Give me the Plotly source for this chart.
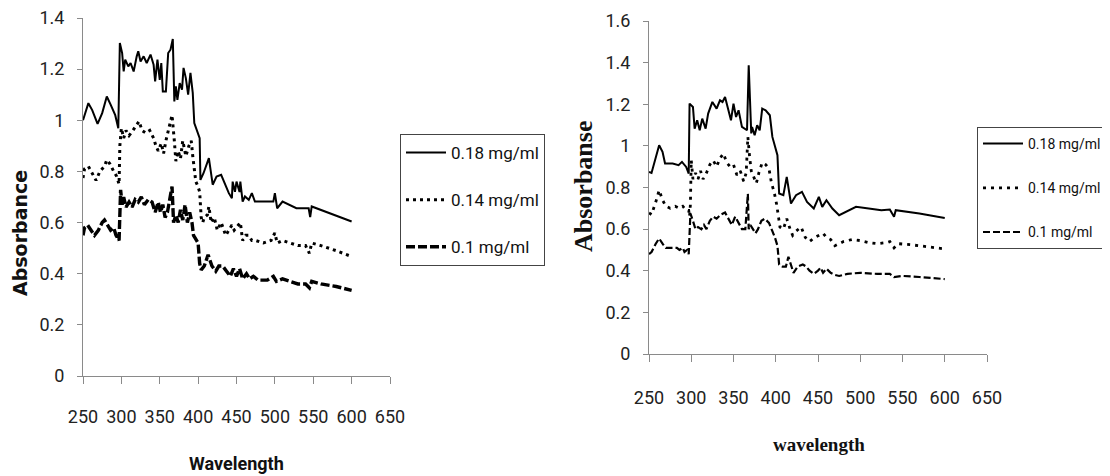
import plotly.graph_objects as go

# ---------------- data: left panel ----------------
left_wl_018 = [250,257,262,269,275,281,286,292,296,298,301,303,305,309,312,316,320,322,325,329,
               333,338,342,344,347,350,352,354,358,361,364,367,369,371,373,376,379,381,384,387,
               390,393,395,398,402,403,407,414,419,424,430,440,444,445,448,450,454,455,458,461,
               466,470,474,498,500,503,510,528,544,546,548,600]
left_abs_018 = [1.00,1.067,1.04,0.986,1.028,1.093,1.061,1.02,0.969,1.302,1.263,1.191,1.237,1.211,1.224,1.191,1.25,1.27,1.23,1.25,
                1.224,1.257,1.217,1.152,1.237,1.158,1.224,1.113,1.113,1.263,1.276,1.318,1.074,1.133,1.08,1.145,1.12,1.205,1.165,1.10,
                1.185,1.107,0.989,0.963,0.93,0.767,0.793,0.852,0.748,0.78,0.787,0.715,0.695,0.76,0.72,0.76,0.72,0.76,0.682,0.702,
                0.689,0.715,0.682,0.682,0.715,0.656,0.682,0.656,0.656,0.621,0.663,0.604]

left_wl_014 = [250,252,257,262,267,272,278,281,285,290,294,297,298,300,303,306,310,315,320,323,
               327,332,337,342,345,348,352,355,358,362,366,369,371,374,377,380,384,388,391,393,
               395,397,400,402,404,406,408,412,414,417,421,425,430,436,440,444,447,450,455,458,
               462,466,470,475,485,495,500,503,510,520,530,540,545,548,560,580,600]
left_abs_014 = [0.774,0.81,0.82,0.79,0.765,0.80,0.82,0.845,0.83,0.80,0.78,0.75,0.90,0.969,0.93,0.96,0.94,0.96,0.98,0.996,
                0.96,0.95,0.96,0.93,0.90,0.88,0.91,0.87,0.92,0.97,1.02,0.92,0.84,0.88,0.85,0.92,0.86,0.90,0.92,0.86,
                0.80,0.76,0.74,0.72,0.62,0.60,0.62,0.63,0.663,0.60,0.62,0.57,0.60,0.55,0.57,0.59,0.57,0.58,0.60,0.53,
                0.55,0.55,0.53,0.53,0.52,0.53,0.559,0.52,0.53,0.52,0.51,0.51,0.48,0.52,0.51,0.49,0.467]

left_wl_010 = [250,252,256,260,265,270,275,278,282,286,290,293,297,298,299,301,303,306,310,314,
               318,322,326,330,335,340,344,348,351,354,357,360,363,366,368,371,374,377,380,383,
               386,389,392,394,396,400,402,404,408,413,418,423,427,432,437,442,446,450,454,458,
               463,467,472,478,490,498,502,510,520,530,540,545,548,560,580,600]
left_abs_010 = [0.55,0.58,0.59,0.57,0.55,0.57,0.60,0.61,0.59,0.57,0.58,0.55,0.53,0.62,0.728,0.67,0.70,0.66,0.68,0.66,
                0.69,0.68,0.70,0.67,0.69,0.68,0.64,0.68,0.64,0.67,0.62,0.64,0.70,0.741,0.60,0.63,0.60,0.65,0.61,0.67,
                0.60,0.64,0.60,0.55,0.54,0.52,0.44,0.415,0.43,0.474,0.43,0.41,0.43,0.43,0.41,0.39,0.42,0.39,0.42,0.38,
                0.40,0.38,0.39,0.375,0.375,0.39,0.37,0.38,0.37,0.36,0.36,0.345,0.37,0.36,0.35,0.335]

# ---------------- data: right panel ----------------
right_wl_018 = [250,253,262,266,269,278,285,289,294,297,298,302,304,307,310,313,317,320,325,330,
                334,337,340,343,347,350,353,356,360,366,368,371,372,375,378,381,384,388,393,396,
                400,402,404,409,413,418,424,431,437,445,451,455,460,467,475,483,495,510,525,535,
                540,542,570,600]
right_abs_018 = [0.875,0.87,1.003,0.971,0.915,0.915,0.907,0.923,0.899,0.867,1.203,1.187,1.083,1.123,1.075,1.131,1.083,1.155,1.211,1.179,
                 1.219,1.211,1.235,1.187,1.123,1.203,1.139,1.171,1.091,1.075,1.387,1.06,1.091,1.051,1.099,1.075,1.179,1.171,1.147,1.043,
                 0.987,0.955,0.771,0.763,0.851,0.723,0.763,0.779,0.731,0.699,0.755,0.707,0.739,0.699,0.667,0.683,0.707,0.699,0.691,0.694,
                 0.659,0.691,0.675,0.654]

right_wl_014 = [250,253,258,262,266,270,275,281,286,290,294,297,298,299,300,302,305,308,311,314,
                318,322,326,330,334,338,342,346,350,354,358,362,365,367,369,371,374,377,380,384,
                388,392,395,398,401,403,405,409,413,417,420,424,430,435,440,446,452,456,460,465,
                470,475,480,490,500,510,520,530,535,540,545,560,580,600]
right_abs_014 = [0.678,0.67,0.73,0.787,0.74,0.71,0.70,0.71,0.70,0.71,0.69,0.69,0.66,0.72,0.931,0.84,0.87,0.84,0.88,0.84,
                 0.87,0.91,0.93,0.90,0.94,0.963,0.92,0.90,0.91,0.86,0.88,0.83,0.87,1.043,0.95,0.88,0.85,0.82,0.87,0.92,
                 0.91,0.89,0.82,0.78,0.72,0.66,0.61,0.60,0.65,0.60,0.57,0.59,0.61,0.56,0.54,0.56,0.57,0.58,0.56,0.55,
                 0.52,0.53,0.54,0.55,0.545,0.535,0.53,0.535,0.54,0.51,0.53,0.525,0.515,0.505]

right_wl_010 = [250,253,258,262,266,270,278,283,286,290,292,295,297,298,299,302,305,308,312,315,
                318,322,326,330,335,340,345,348,352,356,360,364,366,367,368,370,373,376,379,383,
                387,392,396,399,402,404,408,412,415,418,421,426,432,436,440,445,450,453,456,460,
                465,470,475,485,500,520,535,540,550,570,600]
right_abs_010 = [0.48,0.49,0.53,0.555,0.53,0.51,0.51,0.51,0.50,0.51,0.49,0.50,0.48,0.55,0.675,0.64,0.60,0.61,0.60,0.62,
                 0.60,0.64,0.66,0.65,0.67,0.68,0.64,0.62,0.66,0.63,0.60,0.60,0.74,0.77,0.60,0.62,0.60,0.58,0.60,0.64,
                 0.65,0.63,0.59,0.56,0.52,0.43,0.42,0.42,0.467,0.43,0.39,0.42,0.43,0.42,0.40,0.385,0.40,0.415,0.39,0.41,
                 0.39,0.38,0.375,0.385,0.39,0.385,0.385,0.37,0.375,0.37,0.36]

series_names = ["0.18 mg/ml", "0.14 mg/ml", "0.1 mg/ml"]
x_ticks = [250, 300, 350, 400, 450, 500, 550, 600, 650]
left_y_ticks = [0, 0.2, 0.4, 0.6, 0.8, 1, 1.2, 1.4]
right_y_ticks = [0, 0.2, 0.4, 0.6, 0.8, 1, 1.2, 1.4, 1.6]

# the page body adds an 8px margin, so the figure is 8px smaller and offset
OFF = 8
W, H = 1110 - OFF, 476 - OFF
SANS = "Roboto, Liberation Sans, sans-serif"
SERIF = "Liberation Serif, Times New Roman, serif"

fig = go.Figure()

left_styles = [dict(width=2, dash="solid"), dict(width=3, dash="3px,4px"), dict(width=3.4, dash="9px,3px")]
right_styles = [dict(width=2, dash="solid"), dict(width=2.8, dash="3px,5px"), dict(width=2.2, dash="7px,3px")]

for i, (xs, ys) in enumerate([(left_wl_018, left_abs_018), (left_wl_014, left_abs_014), (left_wl_010, left_abs_010)]):
    fig.add_trace(go.Scatter(x=xs, y=ys, mode="lines", name=series_names[i],
                             line=dict(color="black", **left_styles[i]),
                             xaxis="x", yaxis="y", legend="legend", legendgroup="L%d" % i))
for i, (xs, ys) in enumerate([(right_wl_018, right_abs_018), (right_wl_014, right_abs_014), (right_wl_010, right_abs_010)]):
    fig.add_trace(go.Scatter(x=xs, y=ys, mode="lines", name=series_names[i],
                             line=dict(color="black", **right_styles[i]),
                             xaxis="x2", yaxis="y2", legend="legend2", legendgroup="R%d" % i))

def px_x(p):
    return (p - OFF) / W

def px_y(p):
    return 1 - (p - OFF) / H

axis_common = dict(showgrid=False, zeroline=False, showline=True, linecolor="#8a8a8a", linewidth=1,
                   ticks="outside", tickcolor="#8a8a8a", tickwidth=1, automargin=False,
                   ticklabeloverflow="allow",
                   tickfont=dict(family=SANS, size=18, color="#222222"))

fig.update_layout(
    width=W, height=H,
    margin=dict(l=0, r=0, t=0, b=0, autoexpand=False),
    paper_bgcolor="white", plot_bgcolor="white",
    showlegend=True,
    xaxis=dict(domain=[px_x(83), px_x(390)], range=[250, 650], tickvals=x_ticks, ticklen=7,
               ticklabelstandoff=17, anchor="y", **axis_common),
    yaxis=dict(domain=[px_y(376), px_y(18)], range=[0, 1.4], tickvals=left_y_ticks,
               ticktext=[("%g" % v) for v in left_y_ticks], ticklen=5, ticklabelstandoff=9,
               anchor="x", **axis_common),
    xaxis2=dict(domain=[px_x(649), px_x(987)], range=[250, 650], tickvals=x_ticks, ticklen=7,
                ticklabelstandoff=20, anchor="y2", **axis_common),
    yaxis2=dict(domain=[px_y(354), px_y(21)], range=[0, 1.6], tickvals=right_y_ticks,
                ticktext=[("%g" % v) for v in right_y_ticks], ticklen=5, ticklabelstandoff=9,
                anchor="x2", **axis_common),
    legend=dict(x=px_x(400), y=px_y(134), xanchor="left", yanchor="top",
                bordercolor="#444444", borderwidth=1, bgcolor="white",
                font=dict(family=SANS, size=17, color="#111111"),
                traceorder="grouped", tracegroupgap=22, itemwidth=40),
    legend2=dict(x=px_x(977), y=px_y(127), xanchor="left", yanchor="top",
                 bordercolor="#444444", borderwidth=1, bgcolor="white",
                 font=dict(family=SANS, size=14, color="#111111"),
                 traceorder="grouped", tracegroupgap=23, itemwidth=40),
    annotations=[
        dict(text="<b>Absorbance</b>", x=px_x(20), y=px_y(233), xref="paper", yref="paper",
             xanchor="center", yanchor="middle", showarrow=False, textangle=-90,
             font=dict(family="DejaVu Sans, Verdana, sans-serif", size=19, color="#111111")),
        dict(text="<b>Wavelength</b>", x=px_x(236), y=px_y(463), xref="paper", yref="paper",
             xanchor="center", yanchor="middle", showarrow=False,
             font=dict(family=SANS, size=18, color="#111111")),
        dict(text="<b>Absorbanse</b>", x=px_x(583), y=px_y(187), xref="paper", yref="paper",
             xanchor="center", yanchor="middle", showarrow=False, textangle=-90,
             font=dict(family=SERIF, size=26, color="#111111")),
        dict(text="<b>wavelength</b>", x=px_x(819), y=px_y(444), xref="paper", yref="paper",
             xanchor="center", yanchor="middle", showarrow=False,
             font=dict(family=SERIF, size=19, color="#111111")),
    ],
)

fig.write_html("out.html")
